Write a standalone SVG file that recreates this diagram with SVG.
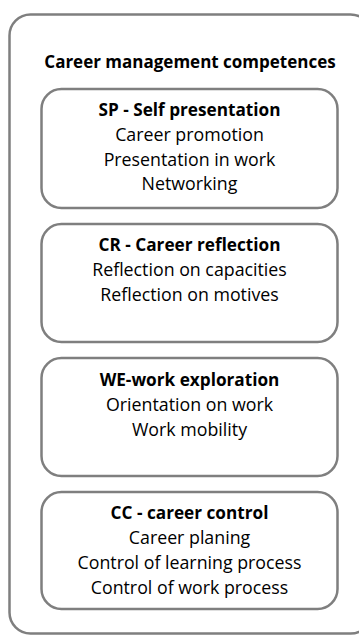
<svg xmlns="http://www.w3.org/2000/svg" width="359" height="635" viewBox="0 0 359 635">
<style>
.box{fill:#fff;stroke:#7f7f7f;stroke-width:2.5}
.t{font-family:"Open Sans","Liberation Sans",sans-serif;font-size:17.8px;fill:#000;text-anchor:middle}
.b{font-weight:bold;font-size:17.2px}
</style>
<rect width="359" height="635" fill="#fff"/>
<g id="container">
<rect class="box" x="9.5" y="14.5" width="362" height="619" rx="21"/>
<text class="t b" x="190" y="68" style="font-size:17px">Career management competences</text>
</g>
<g id="sp">
<rect class="box" x="41.5" y="89" width="296" height="119" rx="20"/>
<text class="t b" x="189.5" y="116">SP - Self presentation</text>
<text class="t" x="189.5" y="141">Career promotion</text>
<text class="t" x="189.5" y="166">Presentation in work</text>
<text class="t" x="189.5" y="190">Networking</text>
</g>
<g id="cr">
<rect class="box" x="41.5" y="224" width="296" height="118" rx="20"/>
<text class="t b" x="189.5" y="251">CR - Career reflection</text>
<text class="t" x="189.5" y="276">Reflection on capacities</text>
<text class="t" x="189.5" y="301">Reflection on motives</text>
</g>
<g id="we">
<rect class="box" x="41.5" y="358" width="296" height="118" rx="20"/>
<text class="t b" x="189.5" y="386">WE-work exploration</text>
<text class="t" x="189.5" y="411">Orientation on work</text>
<text class="t" x="189.5" y="436">Work mobility</text>
</g>
<g id="cc">
<rect class="box" x="41.5" y="492" width="296" height="117" rx="20"/>
<text class="t b" x="189.5" y="519">CC - career control</text>
<text class="t" x="189.5" y="544">Career planing</text>
<text class="t" x="189.5" y="569">Control of learning process</text>
<text class="t" x="189.5" y="594">Control of work process</text>
</g>
<g id="connectors"/>
</svg>
